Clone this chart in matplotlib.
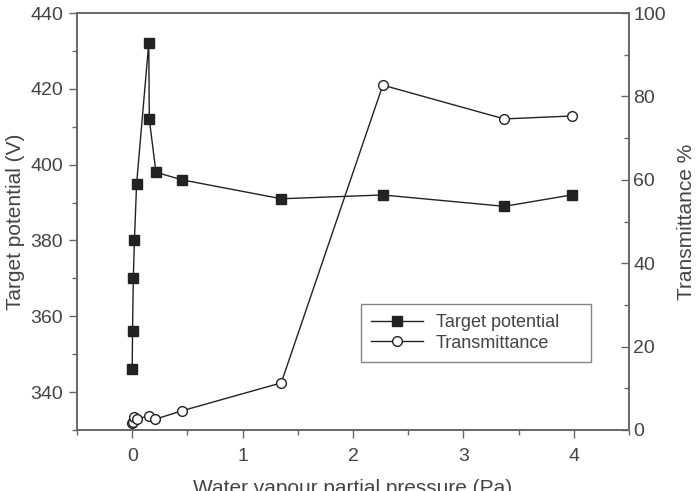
import matplotlib
matplotlib.use("agg")
import matplotlib.pyplot as plt
from matplotlib.ticker import MultipleLocator

plt.rcParams['font.family'] = ['Liberation Sans', 'DejaVu Sans']

# target potential (V) vs water vapour partial pressure (Pa)
p_target = [0.0, 0.003, 0.01, 0.02, 0.04, 0.15, 0.155, 0.215, 0.45, 1.35, 2.27, 3.37, 3.98]
target = [346, 356, 370, 380, 395, 432, 412, 398, 396, 391, 392, 389, 392]

# transmittance (%)
p_trans = [0.0, 0.01, 0.02, 0.04, 0.15, 0.21, 0.45, 1.35, 2.27, 3.37, 3.98]
trans = [1.6, 2.0, 3.2, 2.6, 3.4, 2.6, 4.6, 11.3, 82.7, 74.6, 75.3]

txt = '#444444'
spine = '#666666'

fig = plt.figure(figsize=(6.97, 4.91), dpi=100)
ax = fig.add_axes([77/697, 61/491, 552/697, 417/491])
ax2 = ax.twinx()

l1, = ax.plot(p_target, target, marker='s', color='#222222', lw=1.0,
              markersize=6.5, label='Target potential')
l2, = ax2.plot(p_trans, trans, marker='o', color='#222222', lw=1.0,
               markersize=7, markerfacecolor='white', label='Transmittance')

ax.set_xlim(-0.5, 4.5)
ax.set_ylim(330, 440)
ax2.set_ylim(0, 100)

ax.xaxis.set_major_locator(MultipleLocator(1))
ax.xaxis.set_minor_locator(MultipleLocator(0.5))
ax.yaxis.set_major_locator(MultipleLocator(20))
ax.yaxis.set_minor_locator(MultipleLocator(10))
ax2.yaxis.set_major_locator(MultipleLocator(20))
ax2.yaxis.set_minor_locator(MultipleLocator(10))
ax.set_yticks([340, 360, 380, 400, 420, 440])

for a in (ax, ax2):
    for s in a.spines.values():
        s.set_color(spine)
        s.set_linewidth(1.2)

ax.tick_params(axis='both', which='both', direction='out', colors=spine,
               labelcolor=txt, labelsize=14, top=False, right=False)
ax.tick_params(which='major', length=6, width=1.0, pad=4)
ax.tick_params(which='minor', length=3.5, width=1.0)
ax.tick_params(axis='x', which='major', pad=7)
ax2.tick_params(axis='y', which='both', direction='in', colors=spine,
                labelcolor=txt, labelsize=14)
ax2.tick_params(which='major', length=6, width=1.0, pad=3)
ax2.tick_params(which='minor', length=3.5, width=1.0)

ax.set_xlabel('Water vapour partial pressure (Pa)', fontsize=15, color=txt, labelpad=10)
ax.set_ylabel('Target potential (V)', fontsize=15, color=txt, labelpad=4)
ax2.set_ylabel('Transmittance %', fontsize=15, color=txt, labelpad=8)

leg = ax.legend([l1, l2], ['Target potential', 'Transmittance'],
                loc='upper left', bbox_to_anchor=(0.514, 0.164, 0.418, 0.138),
                mode='expand', fontsize=13, frameon=True, fancybox=False,
                edgecolor=spine, handlelength=2.9, borderpad=0.55,
                labelspacing=0.2, handletextpad=0.7, borderaxespad=0)
leg.get_frame().set_linewidth(1.0)
for t in leg.get_texts():
    t.set_color(txt)

plt.savefig('out.png', dpi=100)
plt.close()
